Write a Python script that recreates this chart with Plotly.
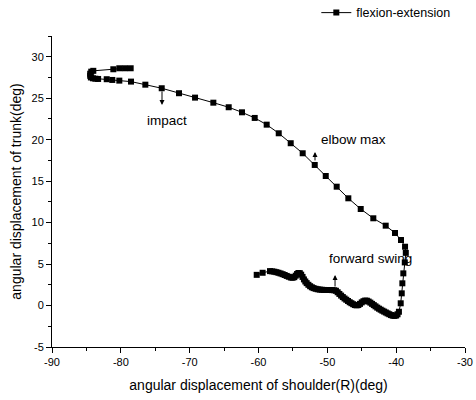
import plotly.graph_objects as go

# Trunk vs. right-shoulder angular displacement (deg), in time order
shoulder_deg = [
    -60.26, -59.40, -58.33, -58.0, -57.7, -57.4, -57.1, -56.8, -56.5, -56.2,
    -55.9, -55.6, -55.3, -55.05, -54.8, -54.6, -54.4, -54.2, -54.0, -53.8,
    -53.6, -53.4, -53.2, -53.0, -52.75, -52.5, -52.25, -52.0, -51.7, -51.4,
    -51.1, -50.8, -50.5, -50.2, -49.9, -49.6, -49.3, -49.0, -48.75, -48.5,
    -48.25, -48.0, -47.75, -47.5, -47.25, -47.0, -46.75, -46.5, -46.25, -46.0,
    -45.75, -45.5, -45.25, -45.0, -44.75, -44.5, -44.25, -44.0, -43.75, -43.5,
    -43.25, -43.0, -42.75, -42.5, -42.25, -42.0, -41.75, -41.5, -41.25, -41.0,
    -40.75, -40.5, -40.25, -40.0, -39.8, -39.6,
    -39.34, -39.19, -39.10, -38.96, -38.75, -38.6, -38.71, -39.30, -40.17, -41.52,
    -43.32, -45.15, -46.95, -48.64, -50.23, -51.83, -53.58, -55.32, -57.06, -58.81,
    -60.55, -62.40, -64.33, -66.56, -69.22, -71.55, -74.06, -76.44, -78.52, -80.22,
    -81.24, -82.05, -83.3, -83.7, -84.05, -84.35, -84.45, -84.45, -84.3, -84.0,
    -81.09, -80.22, -79.39, -78.57,
]
trunk_deg = [
    3.70, 3.95, 4.15, 4.12, 4.08, 4.02, 3.95, 3.87, 3.78, 3.68,
    3.57, 3.47, 3.38, 3.35, 3.42, 3.6, 3.8, 3.92, 3.9, 3.72,
    3.45, 3.15, 2.9, 2.7, 2.5, 2.33, 2.2, 2.1, 2.02, 1.96,
    1.92, 1.9, 1.88, 1.87, 1.87, 1.87, 1.86, 1.84, 1.78, 1.6,
    1.4, 1.2, 1.02, 0.85, 0.7, 0.55, 0.4, 0.28, 0.16, 0.06,
    0.02, 0.06, 0.2, 0.38, 0.52, 0.6, 0.58, 0.48, 0.35, 0.2,
    0.05, -0.1, -0.25, -0.38, -0.5, -0.62, -0.73, -0.84, -0.95, -1.05,
    -1.15, -1.22, -1.25, -1.2, -1.05, -0.75,
    0.27, 1.47, 2.68, 3.88, 5.2, 6.35, 7.09, 7.90, 8.75, 9.63,
    10.52, 11.64, 12.93, 14.33, 15.62, 16.95, 18.36, 19.57, 20.77, 21.81,
    22.62, 23.30, 23.91, 24.46, 25.07, 25.6, 26.2, 26.63, 27.0, 27.12,
    27.2, 27.29, 27.32, 27.35, 27.4, 27.5, 27.7, 27.95, 28.2, 28.3,
    28.49, 28.61, 28.61, 28.61,
]

x_ticks = [-90, -80, -70, -60, -50, -40, -30]
x_tick_labels = ["-90", "-80", "-70", "-60", "-50", "-40", "-30"]
y_ticks = [-5, 0, 5, 10, 15, 20, 25, 30]
y_tick_labels = ["-5", "0", "5", "10", "15", "20", "25", "30"]

# Event markers: label text, label position, arrow head position, arrow tail offset (px)
event_labels = ["impact", "elbow max", "forward swing"]
event_text_x = [-73.3, -46.27, -43.8]
event_text_y = [22.3, 20.07, 5.73]
event_arrow_x = [-74.02, -51.79, -48.88]
event_arrow_y = [24.19, 18.52, 3.68]
event_arrow_ay = [-15, 10, 13]

FONT = "Liberation Sans, Arial, sans-serif"

fig = go.Figure()
fig.add_trace(go.Scatter(
    x=shoulder_deg, y=trunk_deg,
    mode="lines+markers",
    name="flexion-extension",
    line=dict(color="black", width=1),
    marker=dict(symbol="square", size=6, color="black"),
))

for label, tx, ty in zip(event_labels, event_text_x, event_text_y):
    fig.add_annotation(x=tx, y=ty, text=label, showarrow=False,
                       font=dict(family=FONT, size=13.5, color="black"))
for hx, hy, ay in zip(event_arrow_x, event_arrow_y, event_arrow_ay):
    fig.add_annotation(x=hx, y=hy, text="", showarrow=True, ax=0, ay=ay,
                       arrowhead=2, arrowsize=1, arrowwidth=1, arrowcolor="black")

axis_common = dict(
    showline=True, linecolor="black", linewidth=1,
    ticks="outside", ticklen=5, tickwidth=1, tickcolor="black",
    showgrid=False, zeroline=False, mirror=False,
    tickfont=dict(family=FONT, size=11, color="black"),
)

fig.update_layout(
    width=476, height=400,
    margin=dict(l=52, r=11, t=36, b=53, autoexpand=False),
    paper_bgcolor="white", plot_bgcolor="white",
    font=dict(family=FONT, color="black"),
    showlegend=True,
    legend=dict(x=0.64, y=1.074, xanchor="left", yanchor="middle",
                font=dict(family=FONT, size=12.5, color="black"),
                bgcolor="rgba(0,0,0,0)", borderwidth=0),
    xaxis=dict(range=[-90, -30], tickvals=x_ticks, ticktext=x_tick_labels,
               title=dict(text="angular displacement of shoulder(R)(deg)",
                          font=dict(family=FONT, size=14), standoff=12),
               minor=dict(ticks="outside", ticklen=3, tickwidth=1, tickcolor="black",
                          tickvals=[-85, -75, -65, -55, -45, -35]),
               **axis_common),
    yaxis=dict(range=[-5, 32.5], tickvals=y_ticks, ticktext=y_tick_labels,
               title=dict(text="angular displacement of trunk(deg)",
                          font=dict(family=FONT, size=14), standoff=6),
               minor=dict(ticks="outside", ticklen=3, tickwidth=1, tickcolor="black",
                          tickvals=[-2.5, 2.5, 7.5, 12.5, 17.5, 22.5, 27.5, 32.5]),
               **axis_common),
)

fig.write_html("out.html")
